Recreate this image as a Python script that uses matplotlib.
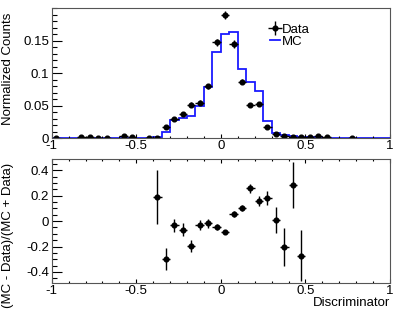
import numpy as np
import matplotlib
matplotlib.use("Agg")
import matplotlib.pyplot as plt
from matplotlib.ticker import MultipleLocator

plt.rcParams['font.family'] = ['Liberation Sans', 'DejaVu Sans']

# MC histogram, 40 bins of width 0.05 from -1 to 1
mc_edges = np.linspace(-1, 1, 41)
mc_vals = [0.0005, 0.0005, 0.0005, 0.0008, 0.0008, 0.0008, 0.0008, 0.0008,
           0.0010, 0.0010, 0.0008, 0.0008, 0.0018, 0.0092, 0.028, 0.032,
           0.035, 0.050, 0.079, 0.133, 0.160, 0.163, 0.107, 0.086,
           0.073, 0.026, 0.008, 0.005, 0.003, 0.002, 0.0015, 0.0015,
           0.0012, 0.0010, 0.0010, 0.0010, 0.0008, 0.0008, 0.0008, 0.0008]

# Data points (bin centres)
data_x = [-0.975, -0.825, -0.775, -0.725, -0.675, -0.575, -0.525, -0.425,
          -0.375, -0.325, -0.275, -0.225, -0.175, -0.125, -0.075, -0.025,
          0.025, 0.075, 0.125, 0.175, 0.225, 0.275, 0.325, 0.375,
          0.425, 0.475, 0.525, 0.575, 0.625, 0.775]
data_y = [0.001, 0.0015, 0.0015, 0.001, 0.001, 0.0035, 0.0015, 0.0,
          0.0012, 0.017, 0.030, 0.037, 0.052, 0.055, 0.080, 0.148,
          0.190, 0.145, 0.087, 0.051, 0.053, 0.017, 0.006, 0.004,
          0.002, 0.0025, 0.0015, 0.0035, 0.0015, 0.001]
data_err = [0.001, 0.001, 0.001, 0.001, 0.001, 0.0015, 0.001, 0.0005,
            0.001, 0.002, 0.0025, 0.0028, 0.0033, 0.0034, 0.004, 0.0055,
            0.006, 0.0055, 0.0042, 0.0033, 0.0033, 0.002, 0.0012, 0.001,
            0.0008, 0.0008, 0.0008, 0.0012, 0.0008, 0.0006]

# (MC - Data)/(MC + Data)
ratio_x = [-0.375, -0.325, -0.275, -0.225, -0.175, -0.125, -0.075, -0.025,
           0.025, 0.075, 0.125, 0.175, 0.225, 0.275, 0.325, 0.375, 0.425, 0.475]
ratio_y = [0.19, -0.30, -0.034, -0.066, -0.197, -0.032, -0.018, -0.047,
           -0.087, 0.058, 0.105, 0.258, 0.158, 0.179, 0.008, -0.205, 0.284, -0.271]
ratio_err = [0.21, 0.085, 0.05, 0.05, 0.047, 0.04, 0.035, 0.025,
             0.018, 0.024, 0.026, 0.033, 0.04, 0.055, 0.10, 0.15, 0.18, 0.20]

fs = 9.5

fig = plt.figure(figsize=(4.07, 3.15), dpi=100)
W, H = 407.0, 315.0
ax1 = fig.add_axes([51.7 / W, 1 - 138.3 / H, 338.3 / W, 130 / H])
ax2 = fig.add_axes([51.7 / W, 1 - 283.3 / H, 338.3 / W, 124.3 / H])

# top panel
ax1.stairs(mc_vals, mc_edges, color='#1a1aff', lw=1.3, label='MC')
ax1.errorbar(data_x, data_y, yerr=data_err, xerr=0.025, fmt='o', color='black',
             ms=3.4, elinewidth=1.0, capsize=0, label='Data')
ax1.set_xlim(-1, 1)
ax1.set_ylim(0, 0.2)
ax1.set_ylabel('Normalized Counts', fontsize=fs, loc='top')
ax1.yaxis.set_label_coords(-0.11, 0.97)
ax1.yaxis.set_minor_locator(MultipleLocator(0.01))
ax1.set_yticks([0, 0.05, 0.1, 0.15])
ax1.set_yticklabels(['0', '0.05', '0.1', '0.15'])
h, l = ax1.get_legend_handles_labels()
ax1.legend(h[::-1], l[::-1], loc='upper left', bbox_to_anchor=(0.625, 0.935),
           frameon=False, fontsize=fs, handlelength=0.8, handletextpad=0.15,
           labelspacing=0.0, borderpad=0)

# bottom panel
ax2.errorbar(ratio_x, ratio_y, yerr=ratio_err, xerr=0.025, fmt='o', color='black',
             ms=3.4, elinewidth=1.0, capsize=0)
ax2.set_xlim(-1, 1)
ax2.set_ylim(-0.49, 0.49)
ax2.set_ylabel('(MC - Data)/(MC + Data)', fontsize=fs, loc='top')
ax2.yaxis.set_label_coords(-0.11, 0.97)
ax2.set_xlabel('Discriminator', fontsize=fs, loc='right')
ax2.xaxis.set_label_coords(1.0, -0.11)
ax2.yaxis.set_minor_locator(MultipleLocator(0.05))
ax2.set_yticks([-0.4, -0.2, 0, 0.2, 0.4])
ax2.set_yticklabels(['-0.4', '-0.2', '0', '0.2', '0.4'])

for ax in (ax1, ax2):
    ax.set_xticks([-1, -0.5, 0, 0.5, 1])
    ax.set_xticklabels(['-1', '-0.5', '0', '0.5', '1'])
    ax.xaxis.set_minor_locator(MultipleLocator(0.1))
    ax.tick_params(axis='y', which='major', direction='in', length=7, width=0.8,
                   labelsize=fs, pad=2)
    ax.tick_params(axis='y', which='minor', direction='in', length=3.5, width=0.8)
    ax.tick_params(axis='x', which='major', direction='in', length=3, width=0.8,
                   labelsize=fs, pad=1.5)
    ax.tick_params(axis='x', which='minor', direction='in', length=1.6, width=0.8)
    for s in ax.spines.values():
        s.set_linewidth(0.8)
        s.set_color('#555555')

ax2.tick_params(axis='x', which='both', top=True)

fig.savefig('out.png', dpi=100)
